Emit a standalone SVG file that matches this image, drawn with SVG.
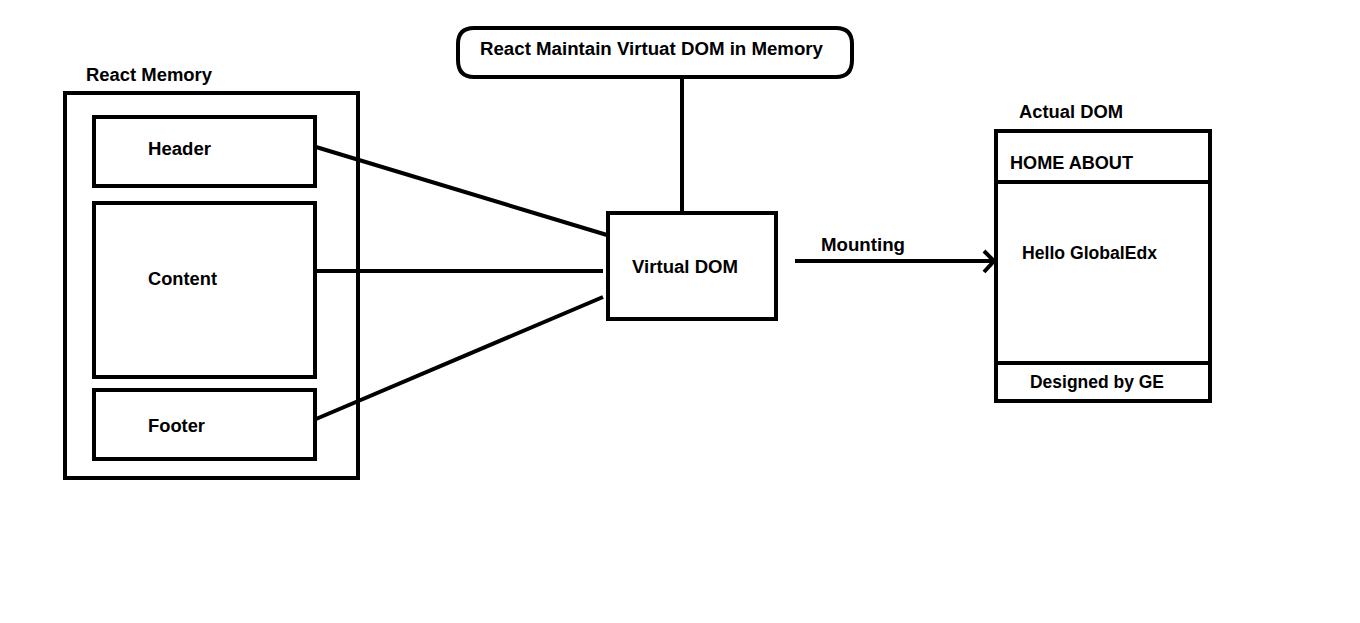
<svg xmlns="http://www.w3.org/2000/svg" width="1360" height="623" viewBox="0 0 1360 623">
<style>
.b{fill:#fff;stroke:#000;stroke-width:4}
.o{fill:none;stroke:#000;stroke-width:4}
.l{stroke:#000;stroke-width:4;fill:none}
text{font-family:"Liberation Sans",Arial,sans-serif;font-weight:bold;font-size:18px;fill:#000}
</style>
<rect width="1360" height="623" fill="#fff"/>
<g id="react-memory">
<text x="86" y="81" textLength="126" lengthAdjust="spacingAndGlyphs">React Memory</text>
<rect class="o" x="65" y="93" width="293" height="385"/>
</g>
<g id="connectors">
<line class="l" x1="682" y1="78" x2="682" y2="212"/>
<line class="l" x1="316" y1="147" x2="607" y2="235"/>
<line class="l" x1="316" y1="271" x2="603" y2="271"/>
<line class="l" x1="316" y1="419" x2="603" y2="297"/>
<line class="l" x1="795" y1="261" x2="993" y2="261"/>
<polyline class="l" points="984,251 994,261 984,272"/>
<text x="821" y="251" textLength="84" lengthAdjust="spacingAndGlyphs">Mounting</text>
</g>
<g id="top-note">
<path class="b" d="M474,28 L836,28 Q852,28 852,44 L852,60 Q852,77 836,77 L474,77 Q458,77 458,60 L458,44 Q458,28 474,28 Z"/>
<text x="480" y="55" textLength="343" lengthAdjust="spacingAndGlyphs">React Maintain Virtuat DOM in Memory</text>
</g>
<g id="header">
<rect class="b" x="94" y="117" width="221" height="69"/>
<text x="148" y="155" textLength="63" lengthAdjust="spacingAndGlyphs">Header</text>
</g>
<g id="content">
<rect class="b" x="94" y="203" width="221" height="174"/>
<text x="148" y="285" textLength="69" lengthAdjust="spacingAndGlyphs">Content</text>
</g>
<g id="footer">
<rect class="b" x="94" y="390" width="221" height="69"/>
<text x="148" y="432" textLength="57" lengthAdjust="spacingAndGlyphs">Footer</text>
</g>
<g id="virtual-dom">
<rect class="b" x="608" y="213" width="168" height="106"/>
<text x="632" y="273" textLength="106" lengthAdjust="spacingAndGlyphs">Virtual DOM</text>
</g>
<g id="actual-dom">
<text x="1019" y="118" textLength="104" lengthAdjust="spacingAndGlyphs">Actual DOM</text>
<rect class="b" x="996" y="131" width="214" height="270"/>
<line class="l" x1="996" y1="182" x2="1210" y2="182"/>
<line class="l" x1="996" y1="363" x2="1210" y2="363"/>
<text x="1010" y="169" textLength="123" lengthAdjust="spacingAndGlyphs">HOME ABOUT</text>
<text x="1022" y="259" textLength="135" lengthAdjust="spacingAndGlyphs">Hello GlobalEdx</text>
<text x="1030" y="388" textLength="134" lengthAdjust="spacingAndGlyphs">Designed by GE</text>
</g>
</svg>
